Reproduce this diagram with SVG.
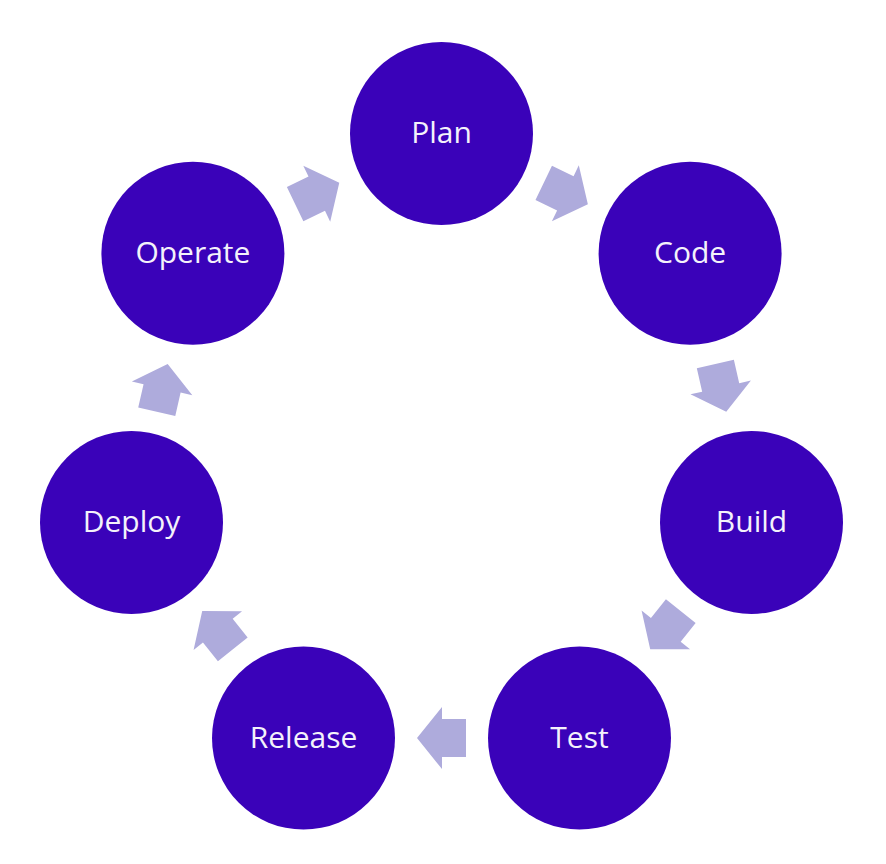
<svg xmlns="http://www.w3.org/2000/svg" width="886" height="864" viewBox="0 0 886 864">
<defs>
<style>
.node circle{fill:#3A02B9}
.node text{fill:#F4F2FB;font-family:"Open Sans","Noto Sans",sans-serif;font-size:30px;text-anchor:middle;dominant-baseline:central}
.arr{fill:#AEABDC}
</style>
<polygon id="arrow" points="24.5,0 -0.5,-31 -0.5,-19 -24.5,-19 -24.5,19 -0.5,19 -0.5,31"/>
</defs>
<rect width="886" height="864" fill="#FFFFFF"/>
<g id="connectors" class="arr">
<use href="#arrow" transform="translate(565.8,193.5) rotate(25.71)"/>
<use href="#arrow" transform="translate(720.8,387.9) rotate(77.14)"/>
<use href="#arrow" transform="translate(665.5,630.2) rotate(128.57)"/>
<use href="#arrow" transform="translate(441.5,738.1) rotate(180)"/>
<use href="#arrow" transform="translate(217.5,630.2) rotate(231.43)"/>
<use href="#arrow" transform="translate(162.2,387.9) rotate(282.86)"/>
<use href="#arrow" transform="translate(317.2,193.5) rotate(334.29)"/>
</g>
<g id="plan" class="node"><circle cx="441.5" cy="133.6" r="91.5"/><text x="441.5" y="131.6">Plan</text></g>
<g id="code" class="node"><circle cx="690.1" cy="253.3" r="91.5"/><text x="690.1" y="251.3">Code</text></g>
<g id="build" class="node"><circle cx="751.5" cy="522.4" r="91.5"/><text x="751.5" y="520.4">Build</text></g>
<g id="test" class="node"><circle cx="579.5" cy="738.1" r="91.5"/><text x="579.5" y="736.1">Test</text></g>
<g id="release" class="node"><circle cx="303.5" cy="738.1" r="91.5"/><text x="303.5" y="736.1">Release</text></g>
<g id="deploy" class="node"><circle cx="131.5" cy="522.4" r="91.5"/><text x="131.5" y="520.4">Deploy</text></g>
<g id="operate" class="node"><circle cx="192.9" cy="253.3" r="91.5"/><text x="192.9" y="251.3">Operate</text></g>
</svg>
